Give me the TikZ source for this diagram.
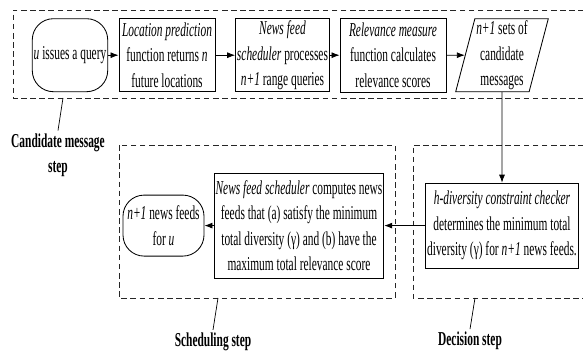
\documentclass[tikz,border=0pt]{standalone}
\usepackage{fontspec}
\setmainfont{Liberation Serif}[FakeStretch=0.58]
\usetikzlibrary{arrows.meta,shapes.geometric}

\begin{document}
\begin{tikzpicture}[
  font=\fontsize{14}{18}\selectfont,
  box/.style={draw, align=center, inner sep=1pt, line width=0.6pt},
  term/.style={box, rounded corners=15pt},
  data/.style={box, trapezium, trapezium left angle=75, trapezium right angle=105, trapezium stretches=true},
  group/.style={dash pattern=on 4pt off 2.5pt, line width=0.7pt, draw=black!85},
  flow/.style={-Latex, line width=0.6pt},
  steplbl/.style={align=center, inner sep=2pt, font=\fontsize{14}{18}\selectfont\bfseries},
  leader/.style={line width=0.5pt}
]

\useasboundingbox (0,0) rectangle (14.575,8.8);

\draw[group] (14.6,8.55) -| (0.325,6.35) -- (14.6,6.35);
\draw[group] (2.975,5.175) rectangle (9.875,1.35);
\draw[group] (14.6,5.175) -| (10.325,1.35) -- (14.6,1.35);

\node[term, minimum width=1.85cm, minimum height=1.825cm] (query) at (1.75,7.42) {\textit{u} issues a query};
\node[box, minimum width=2.4cm, minimum height=1.825cm] (loc) at (4.175,7.42)
  {\textit{Location prediction}\\function returns \textit{n}\\future locations};
\node[box, minimum width=2.225cm, minimum height=1.825cm] (sched) at (7.0625,7.42)
  {\textit{News feed}\\\textit{scheduler} processes\\\textit{n+1} range queries};
\node[box, minimum width=2.65cm, minimum height=1.85cm] (rel) at (9.825,7.42)
  {\textit{Relevance measure}\\function calculates\\relevance scores};
\node[data, minimum width=2.3cm, minimum height=1.825cm] (cand) at (12.55,7.42)
  {\textit{n+1} sets of\\candidate\\messages};

\node[box, minimum width=3.8cm, minimum height=2.125cm] (hdiv) at (12.55,3.16)
  {\textit{h-diversity constraint checker}\\determines the minimum total\\diversity (γ) for \textit{n+1} news feeds.};
\node[box, minimum width=4.05cm, minimum height=2.625cm] (nfs) at (7.475,3.16)
  {\textit{News feed scheduler} computes news\\feeds that (a) satisfy the minimum\\total diversity (γ) and (b) have the\\maximum total relevance score};
\node[term, minimum width=2.025cm, minimum height=1.525cm] (out) at (4.0875,3.16)
  {\textit{n+1} news feeds\\for \textit{u}};

\draw[flow] (query) -- (loc);
\draw[flow] (loc) -- (sched);
\draw[flow] (sched) -- (rel);
\draw[flow] (rel) -- (cand);
\draw[flow] (cand.south) -- (hdiv.north);
\draw[flow] (hdiv) -- (nfs);
\draw[flow] (nfs) -- (out);

\node[steplbl] (candlbl) at (1.45,4.92) {Candidate message\\step};
\node[steplbl] (schedlbl) at (5.325,0.25) {Scheduling step};
\node[steplbl] (declbl) at (11.75,0.27) {Decision step};

\coordinate (candpt) at (1.575,6.35);
\coordinate (schedpt) at (5.45,1.35);
\coordinate (decpt) at (11.875,1.35);
\draw[leader] (candpt) -- (candlbl.north);
\draw[leader] (schedpt) -- (schedlbl.north);
\draw[leader] (decpt) -- (declbl.north);

\end{tikzpicture}
\end{document}
